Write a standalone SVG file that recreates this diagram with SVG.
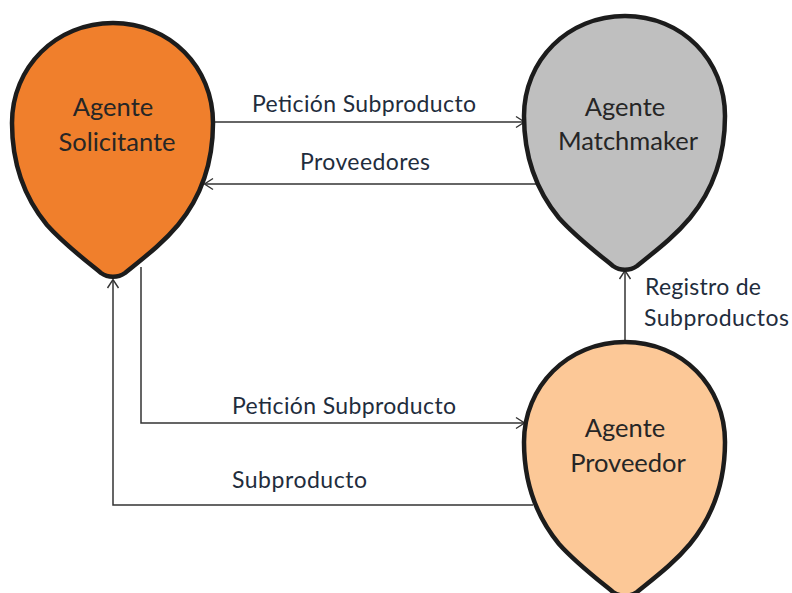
<svg xmlns="http://www.w3.org/2000/svg" width="792" height="593" viewBox="0 0 792 593">
<style>
text{font-family:"Lato","Open Sans",sans-serif}
.n{font-size:25.5px;fill:#262626;text-anchor:middle}
.l{font-size:23px;fill:#1f2d3d}
.b{stroke:#1c1c1c;stroke-width:4.5;stroke-linejoin:round}
.c{fill:none;stroke:#333;stroke-width:1.5}
</style>
<defs>
<marker id="a" markerWidth="14" markerHeight="14" refX="11" refY="7" orient="auto" markerUnits="userSpaceOnUse"><path d="M3 1.5L11.5 7L3 12.5" fill="none" stroke="#333" stroke-width="1.4"/></marker>
<path id="d" d="M0 0C57 0 100 44 100 100C100 140 88 174 65 202C50 220 33 233 12 250C5 255 -5 255 -12 250C-33 233 -50 220 -66 202C-89 174 -101 140 -101 100C-101 44 -57 0 0 0Z"/>
</defs>
<rect width="792" height="593" fill="#fff"/>
<g id="connectors">
<path class="c" marker-end="url(#a)" d="M213 122H524"/>
<path class="c" marker-end="url(#a)" d="M542 184H205"/>
<path class="c" marker-end="url(#a)" d="M141 267V423H524"/>
<path class="c" marker-end="url(#a)" d="M533 505H113V280"/>
<path class="c" marker-end="url(#a)" d="M625 341V271"/>
</g>
<g id="agente-solicitante"><use href="#d" x="113" y="23" fill="#f07f2c" class="b"/><text class="n" x="113" y="116">Agente</text><text class="n" x="117" y="151">Solicitante</text></g>
<g id="agente-matchmaker"><use href="#d" x="625" y="16" fill="#bfbfbf" class="b"/><text class="n" x="625" y="116">Agente</text><text class="n" x="628" y="150">Matchmaker</text></g>
<g id="agente-proveedor"><use href="#d" x="625" y="342" fill="#fcc897" class="b"/><text class="n" x="625" y="437">Agente</text><text class="n" x="628" y="472">Proveedor</text></g>
<g id="labels">
<text class="l" x="252" y="112" textLength="224">Petición Subproducto</text>
<text class="l" x="300" y="170" textLength="130">Proveedores</text>
<text class="l" x="232" y="414" textLength="224">Petición Subproducto</text>
<text class="l" x="232" y="488" textLength="135">Subproducto</text>
<text class="l" x="645" y="295" textLength="116">Registro de</text>
<text class="l" x="644" y="326" textLength="145">Subproductos</text>
</g>
</svg>
